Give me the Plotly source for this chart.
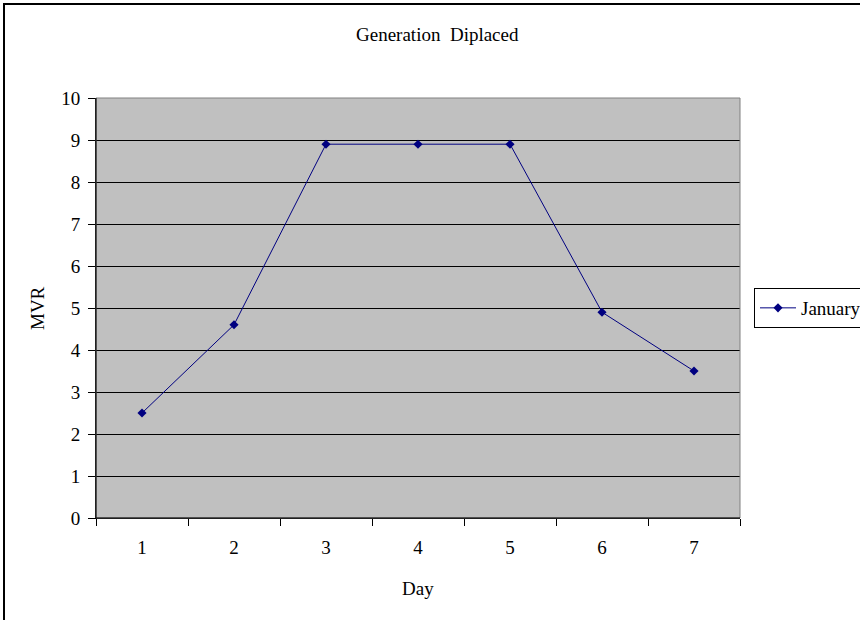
import plotly.graph_objects as go

days = ["1", "2", "3", "4", "5", "6", "7"]
mvr = [2.5, 4.6, 8.9, 8.9, 8.9, 4.9, 3.5]
series_name = "January"
yticks = [0, 1, 2, 3, 4, 5, 6, 7, 8, 9, 10]

W, H = 860, 620
L, R, T, B = 96, 120, 98, 102
pw, ph = W - L - R, H - T - B

def px(x):
    return (x - L) / pw

def py(y):
    return (H - B - y) / ph

font = "Liberation Serif, Times New Roman, serif"
fs = 19

fig = go.Figure()
fig.add_trace(go.Scatter(
    x=days, y=mvr, mode="lines+markers", name=series_name,
    line=dict(color="#000080", width=1),
    marker=dict(symbol="diamond", size=7, color="#000080"),
))

fig.update_layout(
    width=W, height=H,
    margin=dict(l=L, r=R, t=T, b=B, pad=0, autoexpand=False),
    paper_bgcolor="white",
    plot_bgcolor="#c0c0c0",
    font=dict(family=font, size=fs, color="black"),
    showlegend=True,
    legend=dict(
        x=px(754), y=0.5, xanchor="left", yanchor="middle",
        bordercolor="black", borderwidth=1, bgcolor="white",
        font=dict(family=font, size=fs, color="black"),
        itemwidth=36, tracegroupgap=0,
    ),
    xaxis=dict(
        type="category", range=[-0.5, 6.5],
        tickson="boundaries", ticks="outside", ticklen=7, tickcolor="black",
        showline=True, linecolor="black", linewidth=1,
        showgrid=False, zeroline=False,
        tickfont=dict(family=font, size=fs, color="black"),
        ticklabelstandoff=12,
        fixedrange=True,
    ),
    yaxis=dict(
        range=[0, 10], tickvals=yticks,
        ticks="outside", ticklen=7, tickcolor="black",
        showline=True, linecolor="black", linewidth=1,
        showgrid=True, gridcolor="black", gridwidth=1,
        zeroline=False,
        tickfont=dict(family=font, size=fs, color="black"),
        ticklabelstandoff=4,
        fixedrange=True,
    ),
    shapes=[
        dict(type="rect", xref="paper", yref="paper", x0=0, x1=1, y0=0, y1=1,
             line=dict(color="#808080", width=1), layer="above"),
        dict(type="line", xref="paper", yref="paper", x0=0, x1=0, y0=0, y1=1,
             line=dict(color="black", width=1), layer="above"),
        dict(type="line", xref="paper", yref="paper", x0=0, x1=1, y0=0, y1=0,
             line=dict(color="black", width=1), layer="above"),
        dict(type="rect", xref="paper", yref="paper",
             x0=px(4), x1=px(880), y0=py(640), y1=py(4),
             line=dict(color="black", width=2), layer="above"),
    ],
    annotations=[
        dict(text="Generation  Diplaced", xref="paper", yref="paper",
             x=px(438), y=py(34), xanchor="center", yanchor="middle",
             showarrow=False, font=dict(family=font, size=fs, color="black")),
        dict(text="Day", xref="paper", yref="paper",
             x=px(418), y=py(588), xanchor="center", yanchor="middle",
             showarrow=False, font=dict(family=font, size=fs, color="black")),
        dict(text="MVR", xref="paper", yref="paper", textangle=-90,
             x=px(37), y=py(308), xanchor="center", yanchor="middle",
             showarrow=False, font=dict(family=font, size=fs, color="black")),
    ],
)

fig.write_html("out.html", config={"displayModeBar": False})
